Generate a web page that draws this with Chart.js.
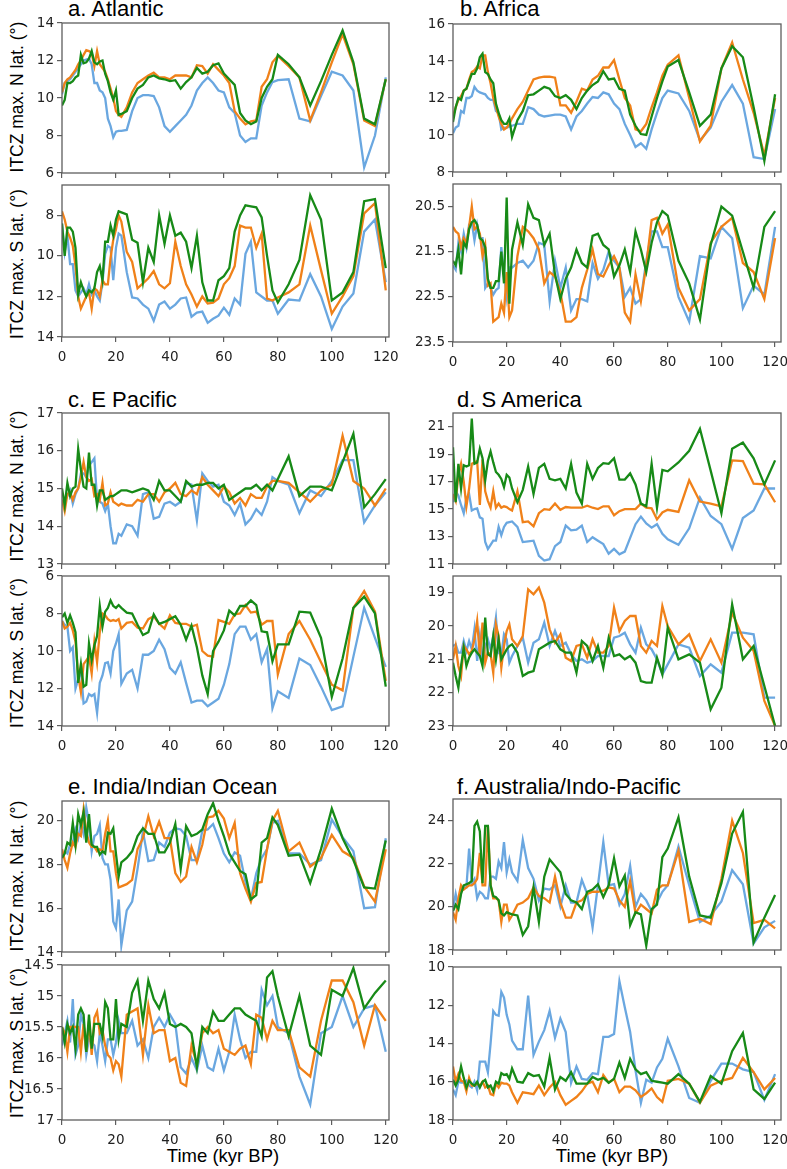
<!DOCTYPE html>
<html>
<head>
<meta charset="utf-8">
<script src="https://cdn.jsdelivr.net/npm/chart.js@4.4.1/dist/chart.umd.min.js"></script>
<style>
  body { margin: 0; background: #fff; width: 787px; height: 1169px; position: relative; overflow: hidden;
         font-family: "Liberation Sans", Arial, sans-serif; color: #000; }
  canvas { position: absolute; }
  .ttl { position: absolute; font-size: 22px; line-height: 22px; white-space: nowrap; }
  .yt { position: absolute; font-size: 17.5px; line-height: 18px; width: 220px; text-align: center;
        white-space: nowrap; transform: translate(-50%, -50%) rotate(-90deg); }
  .xt { position: absolute; font-size: 18.5px; line-height: 19px; width: 200px; text-align: center;
        transform: translateX(-50%); }
</style>
</head>
<body>
<div class="ttl" style="left:68px;top:-2px">a. Atlantic</div>
<div class="ttl" style="left:460px;top:-2px">b. Africa</div>
<div class="ttl" style="left:68px;top:389px">c. E Pacific</div>
<div class="ttl" style="left:457px;top:389px">d. S America</div>
<div class="ttl" style="left:68px;top:776px">e. India/Indian Ocean</div>
<div class="ttl" style="left:457px;top:776px">f. Australia/Indo-Pacific</div>

<div class="yt" style="left:17px;top:97px">ITCZ max. N lat. (°)</div>
<div class="yt" style="left:17px;top:264px">ITCZ max. S lat. (°)</div>
<div class="yt" style="left:17px;top:486px">ITCZ max. N lat. (°)</div>
<div class="yt" style="left:17px;top:653px">ITCZ max. S lat. (°)</div>
<div class="yt" style="left:17px;top:876px">ITCZ max. N lat. (°)</div>
<div class="yt" style="left:17px;top:1043px">ITCZ max. S lat. (°)</div>

<div class="xt" style="left:223px;top:1146px">Time (kyr BP)</div>
<div class="xt" style="left:612px;top:1146px">Time (kyr BP)</div>

<script>
// time axis (kyr BP), shared by every series
const kyr = [0,1,2,3,4,5,6,7,8,9,10,11,12,13,14,15,16,17,18,19,20,21,22,
  24,26,28,30,32,34,36,38,40, 42,44,46,48,50,52,54,56,58,60, 62,64,66,68,70,72,74,76,78,80,
  84,88,92,96,100,104,108,112,116,120];
const xTicks = [0,20,40,60,80,100,120];

// a. Atlantic
const aN_blue = [10.2,10.8,10.9,11.0,11.2,11.4,11.6,11.8,12.0,12.05,12.1,11.8,10.8,10.8,10.4,10.3,10.0,8.9,8.5,7.9,8.2,8.25,8.25,
  8.3,9.3,10.0,10.15,10.15,10.1,9.5,8.5,8.2, 8.5,8.8,9.1,9.6,10.4,10.8,11.1,10.8,10.4,10.3, 9.5,9.2,8.0,7.65,7.85,7.85,9.6,10.3,10.85,10.95,
  11.0,8.9,8.75,10.1,11.4,11.2,10.4,6.3,8.0,11.1];
const aN_orange = [10.3,10.8,11.0,11.1,11.3,11.5,11.8,12.0,12.3,12.55,12.5,12.4,11.7,12.5,11.8,11.6,11.4,11.0,10.5,10.0,9.3,9.1,9.0,
  9.5,10.3,10.8,11.0,11.2,11.35,11.1,11.1,11.0, 11.2,11.2,11.2,11.1,11.75,11.7,11.3,11.8,11.5,11.2, 10.8,9.3,8.9,8.6,8.75,8.8,10.6,11.0,11.9,12.25,
  11.7,11.1,8.8,10.3,11.9,13.4,11.8,8.8,8.5,11.0];
const aN_green = [9.6,9.9,10.8,10.8,10.9,11.1,11.2,12.3,11.85,11.9,12.1,12.5,11.9,11.8,11.95,12.0,11.3,10.9,10.3,9.9,10.4,9.1,9.15,
  9.3,10.0,10.5,10.7,11.1,11.2,11.05,11.0,10.9, 10.95,10.5,10.85,11.1,11.6,11.3,11.4,11.75,11.85,11.3, 11.0,10.7,9.2,8.8,8.6,8.75,10.0,10.6,11.0,12.3,
  11.8,11.1,9.6,10.9,12.3,13.6,11.9,8.9,8.6,11.0];
const aS_blue = [8.4,9.8,9.0,10.4,10.4,11.7,12.0,11.8,11.6,11.9,11.4,11.9,11.7,12.0,12.2,11.3,9.9,9.5,9.6,11.2,9.6,8.9,9.0,
  10.8,12.05,12.1,12.4,12.6,13.2,12.4,12.25,12.6, 12.4,12.1,12.05,13.0,12.8,12.75,13.3,13.1,12.95,12.55, 12.9,12.1,12.4,9.9,9.3,11.8,12.0,12.2,12.2,12.85,
  12.15,12.2,10.9,12.0,13.6,12.5,11.85,8.8,8.2,11.3];
const aS_orange = [7.8,8.2,8.8,9.1,9.5,10.5,12.0,12.6,12.3,12.0,11.8,12.6,11.6,11.7,12.0,11.2,11.4,11.4,10.1,9.2,8.7,8.0,8.3,
  9.8,10.3,11.6,11.35,11.1,10.75,11.4,11.6,11.35, 9.3,10.5,11.4,11.9,12.5,12.0,12.35,12.3,12.1,11.4, 11.1,10.5,8.5,8.6,8.6,9.6,8.9,12.1,12.2,12.05,
  11.8,11.4,8.5,10.7,12.85,12.0,11.0,7.9,7.4,11.7];
const aS_green = [8.4,10.0,8.6,8.6,8.8,9.6,11.9,11.3,11.7,12.0,11.7,11.8,11.6,10.8,10.5,11.2,9.3,9.3,8.5,9.0,8.2,7.8,7.85,
  7.95,9.2,9.35,11.3,9.6,10.3,8.0,9.4,8.0, 9.0,8.85,9.3,10.6,9.0,11.3,12.2,12.2,11.2,11.0, 10.6,8.8,8.0,7.5,7.55,7.6,8.1,10.0,11.7,12.3,
  11.4,10.2,7.0,8.2,12.2,11.8,10.8,7.3,7.2,10.6];

// b. Africa
const bN_blue = [10.1,10.4,10.5,11.3,11.2,12.0,12.0,12.1,12.6,12.4,12.3,12.25,12.2,12.0,11.9,11.9,11.3,11.2,10.3,10.4,10.4,10.45,10.5,
  10.6,10.6,11.5,11.4,11.1,11.0,11.05,11.1,11.1, 11.0,10.3,11.0,11.3,11.7,12.05,12.0,12.3,12.2,11.7, 11.4,10.6,10.0,9.35,9.55,9.25,10.3,11.2,12.0,12.4,
  12.25,11.3,9.7,10.4,11.8,12.7,11.7,8.8,8.7,11.4];
const bN_orange = [11.0,11.5,11.9,12.1,12.4,12.5,13.0,13.4,13.5,13.7,13.6,14.3,14.3,13.4,12.8,12.0,11.5,11.0,10.6,10.3,10.4,10.6,10.9,
  11.4,11.8,12.4,13.0,13.1,13.15,13.15,13.1,11.6, 11.6,11.2,11.8,12.5,12.4,13.0,13.2,13.65,13.65,14.05, 13.0,12.0,11.6,10.3,10.2,10.6,11.5,12.3,13.2,13.8,
  14.3,12.0,9.65,10.5,13.6,15.0,13.0,11.2,8.9,12.0];
const bN_green = [10.7,11.5,12.0,11.9,12.4,12.5,12.9,13.3,13.3,13.6,14.2,14.4,13.4,13.3,13.0,12.8,11.7,11.2,10.8,10.6,10.6,10.9,9.9,
  10.8,11.3,12.15,12.2,12.4,12.6,12.5,12.1,12.0, 12.15,11.9,11.4,12.0,12.4,12.7,12.9,13.45,13.0,13.05, 12.5,12.4,11.1,10.5,10.05,10.0,11.0,12.0,12.9,13.7,
  14.05,12.3,10.5,11.1,13.6,14.8,14.2,11.5,8.6,12.2];
const bS_blue = [21.8,21.9,21.3,21.5,21.1,21.4,20.9,20.85,21.25,20.9,21.2,21.2,22.3,22.2,22.3,22.45,22.35,22.3,21.4,22.0,22.5,21.85,21.85,
  21.75,21.7,21.85,21.7,21.3,21.35,22.6,21.7,22.3, 21.85,22.8,22.55,22.55,22.6,21.75,22.1,21.9,21.5,21.7, 21.85,22.5,22.3,22.65,22.55,21.7,21.05,21.05,21.4,21.4,
  22.5,23.05,21.6,21.65,20.95,21.2,22.75,22.25,22.45,20.95];
const bS_orange = [20.95,21.05,21.1,21.4,21.2,21.3,20.95,20.5,21.0,20.95,21.1,21.6,21.35,22.25,22.2,23.05,23.0,22.95,22.65,22.85,21.95,22.95,22.8,
  21.6,20.95,21.05,21.2,21.45,22.2,21.95,22.05,22.4, 23.05,23.05,22.95,22.3,21.9,21.45,22.0,22.05,21.8,21.6, 21.85,22.85,23.05,22.0,22.6,21.8,20.8,20.75,21.1,20.9,
  22.3,22.8,22.55,21.3,20.95,20.75,21.75,21.95,22.55,21.2];
const bS_green = [21.7,21.8,21.45,22.0,21.3,21.4,21.0,20.85,20.8,20.9,21.2,21.25,21.4,22.1,22.3,22.3,22.15,22.15,21.5,22.2,20.3,22.65,21.45,
  20.85,21.35,20.45,20.75,20.8,21.35,21.1,22.0,22.55, 22.1,21.85,21.45,21.75,21.85,21.15,21.1,21.35,21.45,22.05, 21.8,21.45,21.95,21.05,21.45,21.95,21.3,20.85,20.6,20.7,
  21.7,22.2,23.0,21.35,20.5,20.7,21.5,22.3,20.95,20.6];

// c. E Pacific
const cN_blue = [14.6,14.7,14.8,14.95,14.6,14.85,15.0,15.4,15.4,15.3,15.6,15.7,15.8,14.7,14.65,14.6,14.4,14.6,14.0,13.55,13.55,13.8,13.75,
  14.05,14.0,13.75,14.85,14.9,14.2,14.25,14.6,14.65, 14.55,14.65,15.15,15.1,14.15,15.4,15.2,15.05,15.1,14.65, 14.55,14.3,14.6,14.05,14.2,14.45,14.3,14.65,15.3,15.2,
  15.1,14.35,14.95,14.8,15.2,15.75,15.75,14.1,14.55,14.9];
const cN_orange = [14.7,14.4,14.85,14.9,14.7,14.9,15.0,15.3,15.7,15.3,15.2,15.25,14.8,14.85,14.7,15.15,14.55,14.6,14.9,14.65,14.6,14.55,14.6,
  14.55,14.55,14.7,14.65,14.85,14.85,14.65,14.9,15.0, 15.15,14.85,14.8,14.95,14.85,15.3,15.1,14.95,14.8,15.05, 14.9,14.6,14.75,14.55,14.85,14.75,14.75,15.05,15.2,15.2,
  15.15,14.9,14.65,14.95,15.1,16.4,15.2,15.0,14.55,15.0];
const cN_green = [15.0,14.55,15.15,14.8,15.0,15.05,16.05,15.5,15.05,15.0,15.95,15.1,15.1,14.55,14.95,14.95,14.7,14.75,14.8,14.8,14.85,14.9,14.95,
  14.95,14.9,14.95,15.0,14.95,14.7,15.2,14.95,14.95, 14.8,14.65,15.2,15.05,15.1,15.1,15.15,15.15,15.0,15.1, 14.7,14.8,14.9,15.0,15.0,15.1,14.95,15.1,14.95,15.25,
  15.85,14.8,15.05,15.05,14.95,15.7,16.45,14.5,14.85,15.25];
const cS_blue = [8.4,8.6,8.7,10.0,9.8,12.0,11.5,11.0,12.8,12.7,12.3,12.4,12.3,13.3,11.7,11.3,10.65,10.6,11.2,10.0,9.6,9.1,11.75,
  11.2,11.0,12.0,10.2,10.2,10.0,9.4,9.9,10.9, 11.2,10.6,11.7,12.75,12.65,12.65,12.95,12.75,12.55,11.8, 10.7,9.1,8.7,8.7,9.4,9.1,10.6,9.9,13.05,12.15,
  12.5,10.4,10.75,11.9,13.15,12.95,10.3,7.7,9.3,10.85];
const cS_orange = [8.4,8.8,8.7,8.5,8.9,9.5,11.3,12.2,10.7,10.5,10.3,11.2,9.5,10.6,9.0,8.0,8.1,8.3,8.4,8.35,8.4,8.3,8.8,
  8.5,8.45,8.75,8.8,8.3,8.15,8.55,8.8,8.1, 8.5,8.55,8.55,8.7,8.6,10.0,10.25,10.3,8.35,8.45, 8.55,8.05,8.0,7.55,7.95,7.9,8.6,8.4,8.4,11.25,
  9.1,8.4,9.4,10.6,11.8,12.1,7.7,6.8,7.9,11.6];
const cS_green = [8.2,8.0,8.5,8.1,8.5,9.0,11.7,10.7,11.9,11.8,9.6,10.5,9.7,9.2,7.6,8.7,7.9,7.7,7.3,7.6,7.7,7.55,7.7,
  7.95,8.0,8.6,9.15,9.0,8.05,8.55,8.45,8.3, 8.15,8.6,9.4,8.65,9.8,11.3,12.3,10.0,9.5,8.9, 7.85,8.1,7.6,7.6,7.3,7.55,8.95,9.0,10.55,9.65,
  9.65,7.9,7.95,9.3,12.45,10.4,7.7,7.1,8.0,11.9];

// d. S America
const dN_blue = [15.5,16.3,16.0,15.3,14.7,15.8,16.1,14.9,15.0,15.05,14.4,14.3,12.6,12.1,12.4,12.7,12.7,13.7,13.1,13.7,14.0,14.05,14.1,
  13.7,12.6,12.65,12.7,11.6,11.25,11.35,12.3,12.6, 13.8,13.45,13.5,13.8,12.6,12.95,12.7,12.45,11.75,12.1, 11.7,11.9,12.9,13.9,14.45,13.95,13.65,13.9,13.2,12.8,
  12.4,13.6,15.85,14.5,13.9,12.1,14.35,14.9,16.5,16.5];
const dN_orange = [16.1,15.6,17.5,18.3,17.0,15.2,16.5,18.3,18.4,18.5,15.3,18.6,16.3,15.6,15.1,16.3,15.1,15.4,15.1,15.2,15.15,15.0,14.9,
  16.3,14.05,14.1,13.75,14.7,15.0,14.95,15.4,14.95, 15.15,15.1,15.1,15.1,15.25,15.1,15.0,15.2,15.2,14.55, 14.85,15.0,15.0,15.0,15.4,15.1,15.05,14.25,14.75,14.95,
  14.8,17.1,15.55,15.4,15.2,18.55,18.5,16.85,16.8,15.5];
const dN_green = [19.5,15.5,18.3,16.5,18.2,18.1,18.2,21.6,18.3,18.4,19.4,18.7,17.1,18.5,19.2,18.4,17.7,17.5,17.2,16.6,17.5,17.3,16.5,
  15.5,16.4,18.1,16.1,18.0,18.3,17.2,17.1,17.2, 16.5,18.3,16.2,15.4,18.3,17.2,18.0,18.35,18.3,18.7, 17.15,17.15,17.6,16.8,15.4,15.2,18.3,15.1,17.85,17.75,
  18.4,19.25,20.85,17.8,14.7,19.4,19.85,18.7,16.8,18.55];
const dS_blue = [20.6,20.55,20.8,20.8,20.45,20.75,20.45,20.7,20.1,21.05,20.3,21.05,20.6,20.4,20.7,20.3,19.75,20.8,20.9,20.25,20.4,21.1,20.9,
  20.6,20.35,21.1,20.5,20.4,19.9,20.6,20.15,20.6, 20.5,20.85,21.05,21.0,21.1,21.05,20.9,20.9,20.9,20.35, 20.3,20.2,20.55,20.8,20.05,20.55,20.7,21.0,21.45,21.15,
  20.55,20.65,21.5,21.15,21.4,20.2,20.2,20.25,22.15,22.15];
const dS_orange = [21.0,20.6,21.2,21.5,20.6,20.7,20.85,20.75,20.4,19.85,20.9,19.9,21.1,20.8,20.85,21.4,19.95,20.3,21.25,20.6,20.15,19.95,20.4,
  20.6,20.3,18.9,19.05,18.85,19.3,20.1,20.5,20.25, 20.95,21.05,20.6,20.55,20.95,20.4,20.8,20.8,20.6,19.45, 20.15,19.85,19.7,19.7,20.6,20.8,20.45,20.6,19.4,20.0,
  20.55,20.25,21.05,20.4,21.1,19.6,20.35,20.75,22.25,23.0];
const dS_green = [21.1,21.5,21.85,21.2,20.65,21.2,20.95,20.8,20.7,20.8,20.9,21.2,19.75,20.85,20.9,20.3,21.0,20.4,21.0,20.85,20.7,20.6,20.55,
  20.8,21.5,21.4,21.35,20.7,20.6,20.5,20.45,20.7, 20.8,20.8,21.4,20.45,20.6,21.05,20.6,21.25,20.35,20.9, 20.85,21.0,20.9,21.1,21.65,21.7,21.7,20.95,21.45,20.05,
  21.0,20.85,21.1,22.5,21.85,19.35,21.0,20.6,21.8,23.0];

// e. India/Indian Ocean
const eN_blue = [18.3,18.6,18.5,18.9,19.0,19.6,19.2,19.9,19.4,20.6,19.9,18.6,19.3,19.4,19.8,18.3,18.0,18.0,17.3,15.4,15.1,16.4,14.3,
  15.9,16.3,17.8,19.5,18.15,18.2,19.0,18.8,19.45, 19.65,19.6,19.3,18.2,18.2,19.55,19.6,19.85,19.2,18.5, 18.1,18.55,18.4,17.2,16.4,17.6,18.3,18.7,19.9,20.0,
  18.5,18.5,18.0,18.2,20.05,19.25,18.6,16.0,16.05,19.2];
const eN_orange = [18.7,18.2,17.85,18.5,19.0,18.8,19.4,19.3,20.5,19.5,19.0,18.8,18.8,18.6,18.7,18.6,19.4,20.0,18.6,18.6,17.6,16.95,17.0,
  17.1,17.3,18.7,19.2,20.2,19.3,19.95,19.2,19.2, 17.6,17.2,17.45,18.8,18.1,18.9,20.15,20.2,20.45,20.1, 19.2,19.9,17.6,16.9,16.3,17.15,17.2,18.7,20.0,20.45,
  18.6,19.0,17.9,18.3,19.35,18.6,18.3,17.0,16.3,18.7];
const eN_green = [18.3,18.5,19.0,18.9,19.9,18.9,20.3,19.8,20.4,19.0,20.3,18.9,18.8,18.8,18.45,18.6,18.5,19.45,19.4,19.65,18.5,17.45,18.1,
  18.3,18.6,19.3,19.65,19.4,19.4,18.55,18.55,19.0, 19.85,17.8,19.75,19.3,19.4,19.6,20.3,20.8,20.0,19.3, 18.5,18.1,17.7,17.55,16.4,16.6,19.0,19.2,20.15,19.8,
  18.4,18.45,17.15,18.7,20.55,19.2,18.2,16.95,16.9,19.1];
const eS_blue = [15.8,15.6,15.4,15.75,15.05,15.95,15.8,15.3,15.45,15.95,15.7,15.75,15.8,16.05,15.6,15.8,16.05,15.7,15.7,15.95,15.75,15.4,15.6,
  15.6,15.4,15.8,15.7,16.0,15.5,15.35,15.5,15.3, 15.45,16.15,16.25,16.0,16.2,15.8,16.15,16.2,15.85,16.2, 15.9,15.3,15.7,16.0,15.9,15.9,14.9,15.15,15.0,15.5,
  15.6,16.3,16.75,15.6,15.5,15.0,15.5,15.2,15.15,15.9];
const eS_orange = [15.5,15.6,15.9,15.5,15.5,15.5,15.5,15.9,15.45,15.9,15.4,15.95,15.35,15.25,15.6,15.55,15.8,15.95,16.0,16.2,16.05,16.1,16.3,
  15.3,15.25,15.2,15.95,15.15,15.6,15.55,15.55,16.05, 16.0,16.4,16.45,15.8,16.1,15.6,15.5,15.6,15.55,15.85, 15.9,15.95,15.85,15.8,16.1,15.3,15.35,15.7,15.4,15.55,
  15.55,16.15,16.3,15.4,14.75,14.75,15.1,15.8,15.15,15.4];
const eS_green = [15.5,15.75,15.45,15.6,15.5,15.85,15.3,15.2,15.3,15.9,15.3,15.85,15.45,15.45,15.45,15.65,15.1,15.2,15.7,15.7,15.05,15.7,15.45,
  15.5,14.95,14.75,15.4,14.75,15.05,15.2,14.95,15.45, 15.5,15.45,15.5,15.6,16.15,15.5,15.6,15.25,15.4,15.4, 15.3,15.2,15.2,15.3,15.35,15.4,15.65,14.7,14.6,15.0,
  15.65,15.0,15.8,15.95,14.9,15.0,14.55,15.2,14.95,14.75];

// f. Australia/Indo-Pacific
const fN_blue = [19.9,20.6,20.0,20.7,20.9,20.9,22.7,21.1,21.3,20.4,20.7,20.6,20.4,20.4,21.4,21.4,21.3,22.1,21.8,23.0,21.6,22.2,21.6,
  21.2,23.1,21.8,21.3,20.3,20.85,20.8,21.0,20.0, 21.0,20.2,20.2,21.25,20.6,19.05,21.0,23.0,21.0,21.05, 20.1,20.6,21.9,20.0,20.6,20.3,19.8,20.2,20.7,21.0,
  22.8,21.0,19.3,19.6,20.25,21.7,21.05,18.3,19.05,19.35];
const fN_orange = [19.75,19.4,20.4,21.0,20.8,20.9,21.0,21.0,21.1,21.3,22.5,21.0,21.0,23.75,21.0,20.4,20.4,20.3,19.3,20.1,20.1,19.4,19.6,
  20.1,20.2,20.4,20.9,20.5,20.4,20.2,21.4,20.2, 19.5,19.5,20.2,20.3,20.6,20.7,20.7,20.75,20.9,20.85, 20.3,20.0,21.2,19.7,20.1,19.9,19.7,20.8,21.0,21.0,
  22.6,19.3,19.45,19.2,21.3,24.0,22.5,19.25,19.4,19.0];
const fN_green = [19.8,20.1,19.9,20.6,21.0,21.05,21.1,21.2,23.75,23.95,23.5,21.1,23.75,23.75,21.0,20.5,20.45,20.3,19.7,19.6,19.75,19.7,19.65,
  19.6,18.7,19.1,20.9,19.3,21.4,22.2,21.9,21.6, 20.6,20.3,20.2,19.9,20.7,20.8,21.05,20.45,21.0,22.25, 20.95,21.45,19.15,19.75,19.65,18.2,19.9,20.1,22.3,22.7,
  24.15,21.4,19.6,19.5,21.1,23.4,24.4,18.35,19.5,20.55];
const fS_blue = [16.4,16.7,16.0,16.05,16.05,15.95,16.2,16.3,16.0,16.45,14.95,14.95,14.95,15.5,14.0,12.3,12.5,12.55,11.3,11.6,12.5,13.0,13.85,
  14.3,14.3,11.5,14.6,13.9,13.3,12.3,13.7,12.7, 13.4,16.05,15.2,15.85,15.9,15.55,15.6,13.65,13.65,13.5, 10.75,12.1,13.4,15.4,17.1,15.9,16.05,15.25,14.8,13.75,
  15.2,16.85,17.1,15.95,15.05,15.05,15.35,15.5,16.95,15.6];
const fS_orange = [15.2,16.0,15.6,15.95,16.0,16.5,15.8,16.2,16.2,16.1,16.2,16.0,16.3,16.2,16.65,16.7,16.1,16.3,16.05,16.1,16.1,16.2,16.55,
  17.1,16.55,16.6,16.65,16.2,16.7,16.3,16.0,16.7, 17.2,17.0,16.8,16.5,16.1,16.0,16.55,15.65,16.05,15.85, 16.55,16.25,16.25,16.45,16.8,16.6,16.35,16.8,17.05,15.95,
  15.85,16.1,17.1,16.2,15.95,15.8,14.75,15.5,16.4,15.8];
const fS_green = [15.9,16.2,15.9,15.2,15.8,16.3,15.95,16.1,16.2,16.0,16.3,16.0,15.9,16.3,16.2,16.5,16.0,16.1,15.55,15.65,15.6,15.85,15.3,
  16.0,16.05,15.55,15.7,15.65,16.25,14.75,16.4,15.75, 15.95,15.5,16.1,16.1,16.1,15.75,15.9,15.8,16.05,15.85, 15.0,15.8,14.8,15.35,15.6,15.5,15.95,16.0,16.05,16.1,
  15.6,16.1,17.05,15.7,16.1,14.4,13.45,16.4,16.9,16.05];

// y tick labels of each panel
const aN_ticks = [6,8,10,12,14];
const aS_ticks = [8,10,12,14];
const bN_ticks = [8,10,12,14,16];
const bS_ticks = [20.5,21.5,22.5,23.5];
const cN_ticks = [13,14,15,16,17];
const cS_ticks = [6,8,10,12,14];
const dN_ticks = [11,13,15,17,19,21];
const dS_ticks = [19,20,21,22,23];
const eN_ticks = [14,16,18,20];
const eS_ticks = [14.5,15,15.5,16,16.5,17];
const fN_ticks = [18,20,22,24];
const fS_ticks = [10,12,14,16,18];

const colors = ['#6aa7e0', '#f08119', '#178a17'];

// box = plot area [left, top, right, bottom] in page px
const panels = [
  {box:[62,23,389,173],   xMax:121.2, min:6,    max:14,   ticks:aN_ticks, rev:false, lines:[aN_blue,aN_orange,aN_green], xLab:false},
  {box:[62,185,389,337],  xMax:121.2, min:6.5,  max:14,   ticks:aS_ticks, rev:true,  lines:[aS_blue,aS_orange,aS_green], xLab:true},
  {box:[453,24,781,172],  xMax:122.2, min:8,    max:16,   ticks:bN_ticks, rev:false, lines:[bN_blue,bN_orange,bN_green], xLab:false},
  {box:[453,184,781,342], xMax:122.2, min:20,   max:23.5, ticks:bS_ticks, rev:true,  lines:[bS_blue,bS_orange,bS_green], xLab:true},
  {box:[62,413,389,564],  xMax:121.2, min:13,   max:17,   ticks:cN_ticks, rev:false, lines:[cN_blue,cN_orange,cN_green], xLab:false},
  {box:[62,576,389,726],  xMax:121.2, min:6,    max:14,   ticks:cS_ticks, rev:true,  lines:[cS_blue,cS_orange,cS_green], xLab:true},
  {box:[453,413,781,564], xMax:122.2, min:11,   max:22,   ticks:dN_ticks, rev:false, lines:[dN_blue,dN_orange,dN_green], xLab:false},
  {box:[453,576,781,726], xMax:122.2, min:18.5, max:23,   ticks:dS_ticks, rev:true,  lines:[dS_blue,dS_orange,dS_green], xLab:true},
  {box:[62,801,389,952],  xMax:121.2, min:14,   max:20.9, ticks:eN_ticks, rev:false, lines:[eN_blue,eN_orange,eN_green], xLab:false},
  {box:[62,965,389,1120], xMax:121.2, min:14.5, max:17,   ticks:eS_ticks, rev:true,  lines:[eS_blue,eS_orange,eS_green], xLab:true},
  {box:[453,799,781,950], xMax:122.2, min:18,   max:25,   ticks:fN_ticks, rev:false, lines:[fN_blue,fN_orange,fN_green], xLab:false},
  {box:[453,967,781,1120],xMax:122.2, min:10,   max:18,   ticks:fS_ticks, rev:true,  lines:[fS_blue,fS_orange,fS_green], xLab:true}
];

// full box round the plot area
const frame = {
  id: 'frame',
  afterDraw(chart) {
    const { ctx, chartArea: a } = chart;
    ctx.save();
    ctx.strokeStyle = '#5e5e5e';
    ctx.lineWidth = 1.3;
    ctx.strokeRect(a.left, a.top, a.right - a.left, a.bottom - a.top);
    ctx.restore();
  }
};

const tickFont = { family: 'DejaVu Sans', size: 13.5 };
const gridOpts = { drawOnChartArea: false, drawTicks: true, tickLength: 5, color: '#5e5e5e', lineWidth: 1.2 };

function noPad(s) {
  s.paddingLeft = 0; s.paddingRight = 0; s.paddingTop = 0; s.paddingBottom = 0;
}

panels.forEach(p => {
  const [L, T, R, B] = p.box;
  const yW = 55, padT = 10, padR = 14;
  const xH = p.xLab ? 32 : 10;
  const cv = document.createElement('canvas');
  cv.width = yW + (R - L) + padR;
  cv.height = padT + (B - T) + xH;
  cv.style.left = (L - yW) + 'px';
  cv.style.top = (T - padT) + 'px';
  document.body.appendChild(cv);

  new Chart(cv, {
    type: 'line',
    data: {
      datasets: p.lines.map((arr, i) => ({
        data: kyr.map((x, j) => ({ x: x, y: arr[j] })),
        borderColor: colors[i],
        borderWidth: 2.3,
        pointRadius: 0,
        tension: 0,
        fill: false,
        order: 2 - i
      }))
    },
    options: {
      responsive: false,
      animation: false,
      devicePixelRatio: 1,
      layout: { padding: { top: padT, right: padR, left: 0, bottom: 0 } },
      plugins: { legend: { display: false }, tooltip: { enabled: false } },
      scales: {
        x: {
          type: 'linear', min: 0, max: p.xMax,
          afterBuildTicks: s => { s.ticks = xTicks.map(v => ({ value: v })); },
          afterFit: s => { s.height = xH; noPad(s); },
          grid: gridOpts,
          border: { display: false },
          ticks: { display: p.xLab, padding: 7, maxRotation: 0, autoSkip: false, color: '#222',
                   font: tickFont, callback: v => String(v) }
        },
        y: {
          type: 'linear', min: p.min, max: p.max, reverse: p.rev,
          afterBuildTicks: s => { s.ticks = p.ticks.map(v => ({ value: v })); },
          afterFit: s => { s.width = yW; noPad(s); },
          grid: gridOpts,
          border: { display: false },
          ticks: { padding: 3, autoSkip: false, color: '#222', font: tickFont, callback: v => String(v) }
        }
      }
    },
    plugins: [frame]
  });
});
</script>
</body>
</html>
